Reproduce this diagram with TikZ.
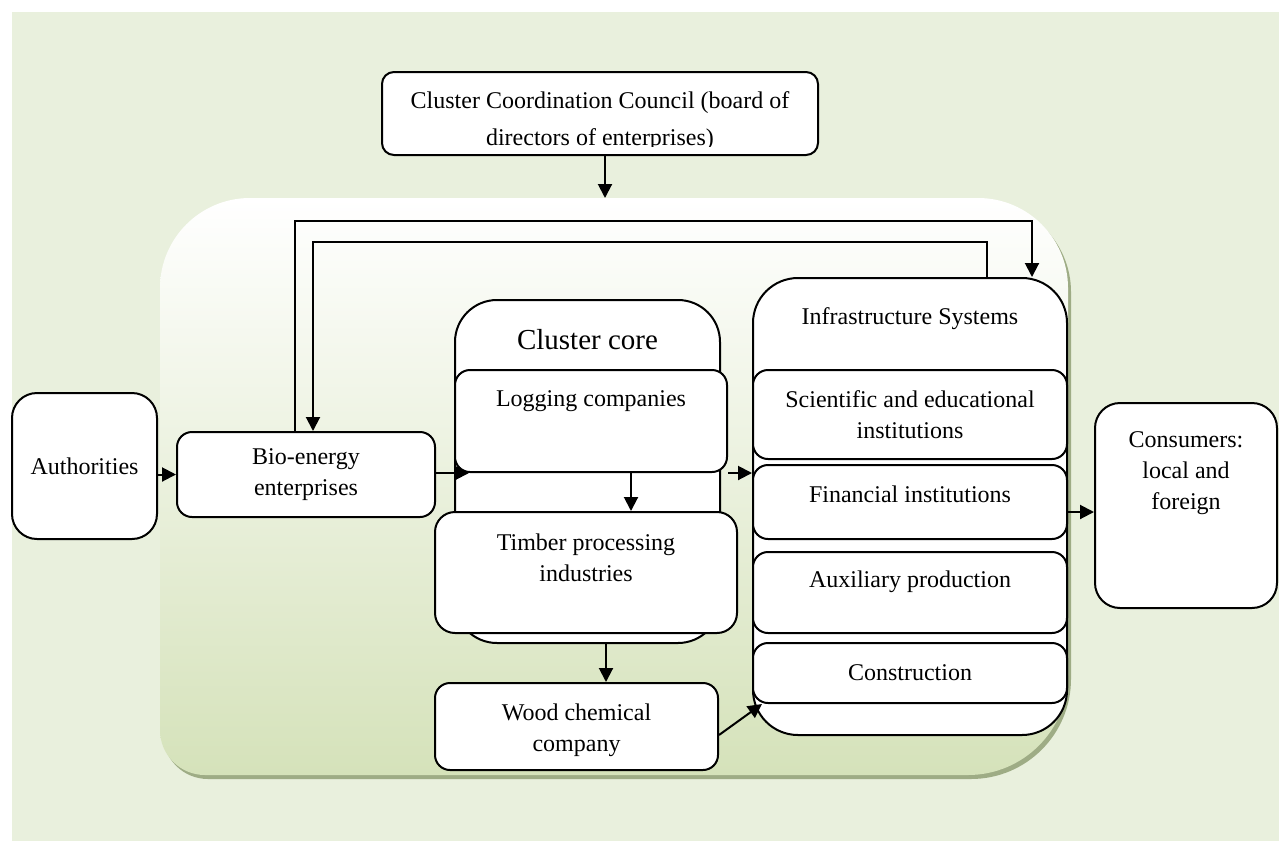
\documentclass[tikz,border=0pt]{standalone}
\usepackage{fontspec}
\setmainfont{Liberation Serif}
\usetikzlibrary{arrows.meta,calc}
\definecolor{bgc}{RGB}{233,240,221}
\definecolor{regb}{RGB}{213,226,186}
\definecolor{shad}{RGB}{158,172,133}
\tikzset{
  box/.style={draw, line width=2pt, fill=white, rounded corners=15pt, inner sep=0pt, align=center},
  txt/.style={align=center, inner sep=0pt},
  arr/.style={line width=2pt, -{Triangle[length=14pt,width=14pt]}},
  fb/.style={line width=2pt},
}
\newcommand{\regionpath}{(160,288) .. controls (160,238.3) and (200.3,198) .. (250,198) -- (978,198) .. controls (1027.7,198) and (1068,238.3) .. (1068,288) -- (1068,675) .. controls (1068,730.2) and (1023.2,775) .. (968,775) -- (205,775) .. controls (180.1,775) and (160,754.9) .. (160,730) -- cycle}
\begin{document}
\begin{tikzpicture}[x=1pt,y=-1pt,font=\fontsize{24}{31}\selectfont]
\useasboundingbox (0,0) rectangle (1279,841);
\fill[bgc] (12,12) rectangle (1279,841);
% cluster region
\fill[shad, shift={(3,4)}] \regionpath;
\shade[top color=white, bottom color=regb] \regionpath;
\coordinate (regtop) at (605,198);

% council
\node[box, rounded corners=12pt, minimum width=436pt, minimum height=83pt] (council) at (600,113.5) {};
\begin{scope}
\clip (382,72) rectangle (818,146);
\node[txt, font=\fontsize{24}{37}\selectfont] (councilt) at (600,121) {Cluster Coordination Council (board of\\directors of enterprises)};
\end{scope}

% left nodes
\node[box, rounded corners=25pt, minimum width=145pt, minimum height=146pt] (auth) at (84.5,466) {Authorities};
\node[box, minimum width=258pt, minimum height=85pt] (bio) at (306,474.5) {Bio-energy\\enterprises};

% cluster core
\node[box, rounded corners=42pt, minimum width=265pt, minimum height=343pt] (core) at (587.5,471.5) {};
\node[txt, font=\fontsize{29}{35}\selectfont] (coret) at (587.5,340) {Cluster core};
\node[box, minimum width=272pt, minimum height=102pt] (logging) at (591,421) {};
\node[txt] (loggingt) at (591,401) {Logging companies};
\node[box, rounded corners=20pt, minimum width=302pt, minimum height=121pt] (timber) at (586,572.5) {};
\node[txt] (timbert) at (586,558) {Timber processing\\industries};

% infrastructure
\node[box, rounded corners=45pt, minimum width=314pt, minimum height=457pt] (infra) at (910,506.5) {};
\node[txt] (infrat) at (910,319) {Infrastructure Systems};
\node[box, minimum width=314pt, minimum height=89pt] (sci) at (910,414.5) {Scientific and educational\\institutions};
\node[box, minimum width=314pt, minimum height=74pt] (fin) at (910,502) {};
\node[txt] (fint) at (910,494) {Financial institutions};
\node[box, minimum width=314pt, minimum height=81pt] (aux) at (910,592.5) {};
\node[txt] (auxt) at (910,582) {Auxiliary production};
\node[box, minimum width=314pt, minimum height=60pt] (constr) at (910,673) {Construction};

% wood
\node[box, minimum width=283pt, minimum height=87pt] (wood) at (576.5,726.5) {};
\node[txt] (woodt) at (576.5,730) {Wood chemical\\company};

% consumers
\node[box, rounded corners=25pt, minimum width=182pt, minimum height=205pt] (cons) at (1186,505.5) {};
\node[txt] (const) at (1186,473) {Consumers:\\local and\\foreign};

% feedback lines
\draw[fb, -{Triangle[length=14pt,width=14pt]}] ([xshift=-11pt]bio.north) -- ++(0,-210) -| ([xshift=122pt]infra.north);
\draw[fb, -{Triangle[length=14pt,width=14pt]}] ([xshift=77pt]infra.north) -- ++(0,-35) -| ([xshift=7pt]bio.north);

% arrows
\draw[arr] ([xshift=5pt]council.south) -- (regtop);
\draw[arr] (auth.east |- bio.west) -- (bio.west);
\draw[arr] (bio.east |- logging.south) -- ([xshift=15pt]logging.south west);
\draw[arr] ([xshift=40pt]logging.south) -- ([xshift=40pt]logging.south |- timber.north);
\draw[arr] (logging.south east) -- (logging.south east -| infra.west);
\draw[arr] ([yshift=-6.5pt]cons.west -| infra.east) -- ([yshift=-6.5pt]cons.west);
\draw[arr] ([xshift=29.5pt]wood.north |- core.south) -- ([xshift=29.5pt]wood.north);
\draw[arr] ([yshift=-8.5pt]wood.east) -- ([xshift=10pt]constr.south west);
\end{tikzpicture}
\end{document}
